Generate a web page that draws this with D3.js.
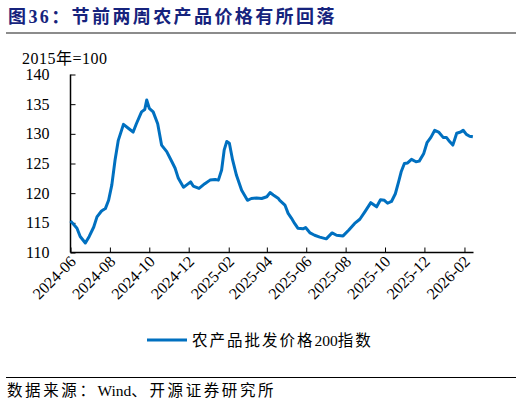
<!DOCTYPE html>
<html>
<head>
<meta charset="utf-8">
<script src="https://cdn.jsdelivr.net/npm/d3@7"></script>
<style>
  body { margin: 0; background: #fff; }
  svg { display: block; }
  .serif { font-family: "Liberation Serif", "Noto Sans CJK SC", serif; }
</style>
</head>
<body>
<div id="chart"></div>
<script>
// 农产品批发价格200指数 (2015年=100)
const dates = [
  "2024-06-01", "2024-06-07", "2024-06-11", "2024-06-16", "2024-06-24", "2024-06-30",
  "2024-07-07", "2024-07-12", "2024-07-19", "2024-07-25", "2024-07-30", "2024-08-04",
  "2024-08-09", "2024-08-14", "2024-08-22", "2024-08-30", "2024-09-06", "2024-09-11",
  "2024-09-19", "2024-09-24", "2024-09-27", "2024-10-01", "2024-10-07", "2024-10-14",
  "2024-10-20", "2024-10-28", "2024-11-05", "2024-11-10", "2024-11-15", "2024-11-23",
  "2024-11-28", "2024-12-04", "2024-12-08", "2024-12-17", "2024-12-26", "2025-01-03",
  "2025-01-11", "2025-01-16", "2025-01-21", "2025-01-25", "2025-01-29", "2025-02-02",
  "2025-02-07", "2025-02-13", "2025-02-21", "2025-03-02", "2025-03-08", "2025-03-16",
  "2025-03-24", "2025-04-01", "2025-04-06", "2025-04-11", "2025-04-19", "2025-04-21",
  "2025-04-29", "2025-05-04", "2025-05-09", "2025-05-14", "2025-05-19", "2025-05-27",
  "2025-05-31", "2025-06-07", "2025-06-14", "2025-06-22", "2025-07-02", "2025-07-11",
  "2025-07-18", "2025-07-28", "2025-08-06", "2025-08-15", "2025-08-23", "2025-08-31",
  "2025-09-09", "2025-09-18", "2025-09-24", "2025-09-30", "2025-10-05", "2025-10-11",
  "2025-10-17", "2025-10-22", "2025-10-26", "2025-10-31", "2025-11-05", "2025-11-11",
  "2025-11-18", "2025-11-23", "2025-11-30", "2025-12-05", "2025-12-11", "2025-12-17",
  "2025-12-23", "2025-12-30", "2026-01-04", "2026-01-09", "2026-01-14", "2026-01-20",
  "2026-01-26", "2026-01-30", "2026-02-04", "2026-02-09", "2026-02-14"
];
const values = [
  115.3, 114.6, 114.1, 112.7, 111.6, 112.7,
  114.3, 116.0, 117.0, 117.4, 118.8, 121.4,
  125.6, 128.9, 131.6, 130.9, 130.3, 131.7,
  133.7, 134.1, 135.7, 134.3, 133.7, 131.7,
  128.1, 127.0, 125.3, 124.2, 122.5, 121.0,
  121.4, 121.9, 121.2, 120.8, 121.6, 122.2,
  122.3, 122.2, 123.9, 127.3, 128.7, 128.4,
  125.6, 123.0, 120.5, 118.8, 119.1, 119.2,
  119.1, 119.4, 120.1, 119.7, 119.1, 118.8,
  118.0, 116.6, 115.8, 114.9, 114.1, 114.0,
  114.2, 113.3, 112.9, 112.6, 112.3, 113.3,
  112.9, 112.8, 113.8, 114.9, 115.6, 116.9,
  118.4, 117.7, 118.9, 118.8, 118.3, 118.6,
  119.9, 121.9, 123.6, 125.0, 125.1, 125.7,
  125.3, 125.4, 126.7, 128.5, 129.4, 130.6,
  130.3, 129.4, 129.4, 128.7, 128.1, 130.1,
  130.3, 130.6, 129.9, 129.6, 129.5
];
const yTicks = [110, 115, 120, 125, 130, 135, 140];
const xTickLabels = [
  "2024-06", "2024-08", "2024-10", "2024-12", "2025-02", "2025-04",
  "2025-06", "2025-08", "2025-10", "2025-12", "2026-02"
];
const seriesName = ["农产品批发价格", "200", "指数"];
const sourceText = ["数据来源：", "Wind", "、开源证券研究所"];

const width = 522;
const height = 408;
const parse = d3.timeParse("%Y-%m-%d");
const parseMonth = d3.timeParse("%Y-%m");
const data = dates.map((d, i) => ({ date: parse(d), value: values[i] }));

const svg = d3
  .select("#chart")
  .append("svg")
  .attr("width", width)
  .attr("height", height);

// CJK runs get extra spacing, latin runs don't
function spacedText(sel, parts, spacing) {
  sel
    .selectAll("tspan")
    .data(parts)
    .enter()
    .append("tspan")
    .style("letter-spacing", (d) => (/[\u3000-\u9fff\uff00-\uffef]/.test(d) ? spacing : "0px"))
    .text((d) => d);
}

// title and rules
svg
  .append("text")
  .attr("x", 8)
  .attr("y", 23)
  .attr("fill", "#16237d")
  .style("font-family", "'Liberation Serif', 'Noto Sans CJK SC', serif")
  .style("font-weight", "bold")
  .style("font-size", "18px")
  .style("letter-spacing", "2.4px")
  .text("图36：节前两周农产品价格有所回落");

svg
  .append("line")
  .attr("x1", 6)
  .attr("x2", 516)
  .attr("y1", 33)
  .attr("y2", 33)
  .attr("stroke", "#8c8c8c")
  .attr("stroke-width", 2);

svg
  .append("line")
  .attr("x1", 6)
  .attr("x2", 516)
  .attr("y1", 377.5)
  .attr("y2", 377.5)
  .attr("stroke", "#000")
  .attr("stroke-width", 1);

svg
  .append("text")
  .attr("class", "serif")
  .attr("x", 7)
  .attr("y", 396)
  .style("font-size", "15.5px")
  .call(spacedText, sourceText, "2.6px");

// scales
const x = d3
  .scaleTime()
  .domain([parse("2024-06-01"), parse("2026-02-15")])
  .range([70.5, 473.5]);
const y = d3.scaleLinear().domain([110, 140]).range([252.5, 74.5]);

svg
  .append("text")
  .attr("class", "serif")
  .attr("x", 22)
  .attr("y", 64)
  .style("font-size", "16px")
  .style("letter-spacing", "0.5px")
  .text("2015年=100");

// y axis
const yAxis = svg
  .append("g")
  .attr("transform", "translate(70.5,0)")
  .call(d3.axisLeft(y).tickValues(yTicks).tickSize(-5).tickPadding(21));
yAxis.selectAll("text").attr("class", "serif").style("font-size", "16px").attr("fill", "#000");
yAxis.selectAll("line").attr("stroke", "#000");
yAxis.select(".domain").attr("stroke", "#000").attr("stroke-width", 1.5).attr("d", "M0,74.5V252.5");

// x axis
const xAxis = svg
  .append("g")
  .attr("transform", "translate(0,252.5)")
  .call(
    d3
      .axisBottom(x)
      .tickValues(xTickLabels.map(parseMonth))
      .tickSize(-5)
      .tickFormat(d3.timeFormat("%Y-%m"))
  );
xAxis.select(".domain").attr("stroke", "#000").attr("stroke-width", 1.5).attr("d", "M70.5,0H473.5");
xAxis.selectAll("line").attr("stroke", "#000");
xAxis
  .selectAll("text")
  .attr("class", "serif")
  .style("font-size", "16px")
  .attr("fill", "#000")
  .attr("text-anchor", "end")
  .attr("dy", 0)
  .attr("transform", "translate(6,10) rotate(-45)")
  .attr("y", 0)
  .attr("x", 0);

// series line
const line = d3
  .line()
  .x((d) => x(d.date))
  .y((d) => y(d.value))
  .curve(d3.curveLinear);

svg
  .append("path")
  .datum(data)
  .attr("d", line)
  .attr("fill", "none")
  .attr("stroke", "#0070c0")
  .attr("stroke-width", 3)
  .attr("stroke-linejoin", "round");

// legend
const legend = svg.append("g").attr("transform", "translate(147,340)");
legend
  .append("line")
  .attr("x1", 0)
  .attr("x2", 40)
  .attr("stroke", "#0070c0")
  .attr("stroke-width", 3);
legend
  .append("text")
  .attr("class", "serif")
  .attr("x", 45)
  .attr("y", 5.5)
  .style("font-size", "15.5px")
  .call(spacedText, seriesName, "2px");
</script>
</body>
</html>
